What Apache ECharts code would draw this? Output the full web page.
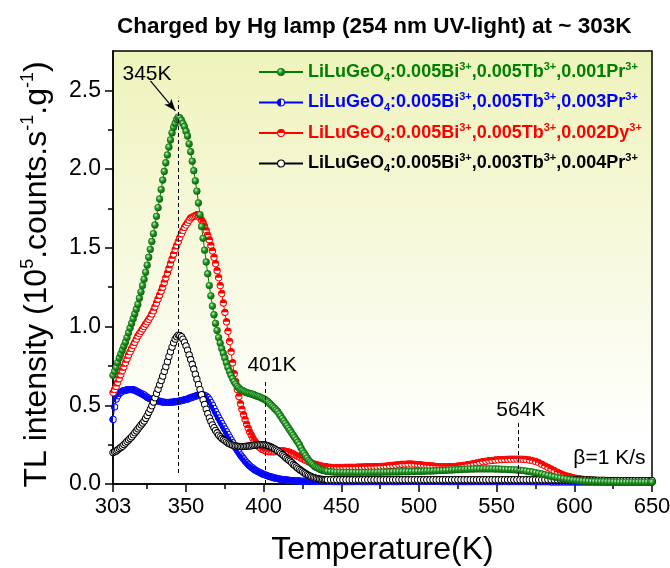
<!DOCTYPE html>
<html>
<head>
<meta charset="utf-8">
<script src="https://cdn.jsdelivr.net/npm/echarts@6/dist/echarts.min.js"></script>
<style>
  html, body { margin: 0; padding: 0; background: #fff; }
  #chart { width: 670px; height: 568px; }
</style>
</head>
<body>
<div id="chart"></div>
<script>
// Glow-curve temperatures (K): 1 K steps through the main peaks, 2 K steps in the tail
const temperature = [
  303,304,305,306,307,308,309,310,311,312,
  313,314,315,316,317,318,319,320,321,322,
  323,324,325,326,327,328,329,330,331,332,
  333,334,335,336,337,338,339,340,341,342,
  343,344,345,346,347,348,349,350,351,352,
  353,354,355,356,357,358,359,360,361,362,
  363,364,365,366,367,368,369,370,371,372,
  373,374,375,376,377,378,379,380,381,382,
  383,384,385,386,387,388,389,390,391,392,
  393,394,395,396,397,398,399,400,401,402,
  403,404,405,406,407,408,409,410,411,412,
  413,414,415,416,417,418,419,420,421,422,
  423,424,425,426,427,428,429,430,431,432,
  433,434,435,436,437,438,439,440,441,
  443,445,447,449,451,453,455,457,459,461,
  463,465,467,469,471,473,475,477,479,481,
  483,485,487,489,491,493,495,497,499,501,
  503,505,507,509,511,513,515,517,519,521,
  523,525,527,529,531,533,535,537,539,541,
  543,545,547,549,551,553,555,557,559,561,
  563,565,567,569,571,573,575,577,579,581,
  583,585,587,589,591,593,595,597,599,601,
  603,605,607,609,611,613,615,617,619,621,
  623,625,627,629,631,633,635,637,639,641,
  643,645,647,649,650
];

// TL intensity (10^5 counts/s/g) — 0.005Bi,0.005Tb,0.001Pr
const tlBiTbPr001 = [
  0.69,0.715,0.74,0.77,0.80,0.825,0.85,0.875,0.90,0.93,
  0.96,0.99,1.02,1.05,1.08,1.11,1.14,1.18,1.22,1.26,
  1.30,1.345,1.39,1.44,1.49,1.54,1.59,1.645,1.70,1.755,
  1.81,1.87,1.93,1.985,2.04,2.09,2.14,2.185,2.23,2.265,
  2.29,2.315,2.33,2.325,2.31,2.29,2.27,2.24,2.21,2.16,
  2.11,2.05,1.99,1.925,1.86,1.785,1.71,1.635,1.56,1.485,
  1.41,1.335,1.26,1.195,1.13,1.075,1.02,0.975,0.93,0.895,
  0.86,0.83,0.80,0.77,0.74,0.715,0.69,0.67,0.65,0.635,
  0.62,0.61,0.60,0.595,0.59,0.585,0.58,0.578,0.575,0.572,
  0.57,0.565,0.56,0.558,0.555,0.55,0.545,0.54,0.535,0.528,
  0.52,0.51,0.50,0.49,0.48,0.47,0.46,0.445,0.43,0.415,
  0.40,0.385,0.37,0.355,0.34,0.325,0.31,0.295,0.28,0.265,
  0.25,0.23,0.21,0.195,0.18,0.165,0.15,0.14,0.13,0.12,
  0.11,0.105,0.10,0.095,0.09,0.087,0.085,0.082,0.08,
  0.078,0.076,0.075,0.075,0.074,0.074,0.074,0.074,0.074,0.074,
  0.074,0.074,0.074,0.075,0.075,0.075,0.075,0.076,0.076,0.076,
  0.077,0.077,0.077,0.078,0.078,0.078,0.079,0.079,0.08,0.08,
  0.081,0.082,0.082,0.083,0.084,0.085,0.086,0.087,0.088,0.089,
  0.09,0.091,0.092,0.093,0.094,0.095,0.095,0.096,0.096,0.096,
  0.096,0.096,0.096,0.095,0.095,0.094,0.093,0.092,0.091,0.09,
  0.089,0.087,0.085,0.082,0.079,0.076,0.072,0.068,0.064,0.059,
  0.054,0.049,0.045,0.041,0.037,0.034,0.031,0.028,0.025,0.023,
  0.021,0.019,0.018,0.017,0.016,0.015,0.015,0.014,0.014,0.013,
  0.013,0.013,0.012,0.012,0.012,0.012,0.012,0.012,0.012,0.012,
  0.012,0.012,0.012,0.012,0.012
];

// 0.005Bi,0.005Tb,0.003Pr
const tlBiTbPr003 = [
  0.41,0.49,0.54,0.56,0.575,0.583,0.59,0.593,0.595,0.598,
  0.60,0.60,0.60,0.598,0.595,0.59,0.585,0.58,0.575,0.57,
  0.565,0.558,0.55,0.545,0.54,0.537,0.535,0.532,0.53,0.527,
  0.525,0.522,0.52,0.519,0.518,0.518,0.518,0.519,0.52,0.521,
  0.522,0.523,0.525,0.527,0.53,0.532,0.535,0.537,0.54,0.544,
  0.548,0.551,0.555,0.558,0.562,0.564,0.566,0.567,0.566,0.563,
  0.558,0.548,0.535,0.518,0.50,0.48,0.46,0.44,0.42,0.402,
  0.385,0.367,0.35,0.332,0.315,0.297,0.28,0.262,0.245,0.23,
  0.215,0.20,0.185,0.172,0.16,0.147,0.135,0.125,0.115,0.107,
  0.10,0.092,0.085,0.08,0.075,0.07,0.065,0.061,0.058,0.054,
  0.05,0.047,0.044,0.041,0.038,0.036,0.034,0.032,0.03,0.028,
  0.027,0.026,0.025,0.024,0.023,0.022,0.021,0.02,0.02,0.019,
  0.019,0.018,0.018,0.018,0.018,0.017,0.017,0.017,0.017,0.017,
  0.017,0.016,0.016,0.016,0.016,0.016,0.016,0.016,0.016,
  0.016,0.015,0.015,0.015,0.015,0.015,0.015,0.015,0.015,0.015,
  0.015,0.015,0.015,0.015,0.015,0.015,0.015,0.015,0.015,0.015,
  0.015,0.015,0.015,0.016,0.016,0.016,0.016,0.016,0.016,0.016,
  0.016,0.016,0.016,0.016,0.016,0.016,0.015,0.015,0.015,0.015,
  0.015,0.015,0.015,0.015,0.015,0.015,0.015,0.015,0.015,0.015,
  0.015,0.015,0.015,0.015,0.015,0.015,0.015,0.015,0.015,0.015,
  0.015,0.015,0.015,0.015,0.015,0.014,0.014,0.014,0.014,0.014,
  0.014,0.013,0.013,0.013,0.013,0.013,0.013,0.013,0.013,0.013,
  0.012,0.012,0.012,0.012,0.012,0.012,0.012,0.012,0.012,0.012,
  0.012,0.012,0.012,0.012,0.012,0.012,0.012,0.012,0.012,0.012,
  0.012,0.012,0.012,0.012,0.012
];

// 0.005Bi,0.005Tb,0.002Dy
const tlBiTbDy002 = [
  0.58,0.60,0.62,0.645,0.67,0.695,0.72,0.745,0.77,0.795,
  0.82,0.84,0.86,0.88,0.90,0.92,0.94,0.955,0.97,0.985,
  1.00,1.015,1.03,1.045,1.06,1.08,1.10,1.125,1.15,1.175,
  1.20,1.225,1.25,1.28,1.31,1.34,1.37,1.40,1.43,1.46,
  1.49,1.515,1.54,1.565,1.59,1.61,1.63,1.645,1.66,1.675,
  1.69,1.695,1.70,1.705,1.71,1.70,1.69,1.675,1.66,1.635,
  1.61,1.58,1.55,1.515,1.48,1.44,1.40,1.355,1.31,1.26,
  1.21,1.15,1.09,1.03,0.97,0.905,0.84,0.77,0.70,0.65,
  0.60,0.555,0.51,0.475,0.44,0.41,0.38,0.355,0.33,0.31,
  0.29,0.275,0.26,0.247,0.235,0.227,0.22,0.215,0.21,0.207,
  0.205,0.205,0.205,0.205,0.205,0.207,0.21,0.21,0.21,0.21,
  0.21,0.208,0.205,0.203,0.20,0.195,0.19,0.185,0.18,0.175,
  0.17,0.165,0.16,0.155,0.15,0.145,0.14,0.135,0.13,0.127,
  0.125,0.122,0.12,0.117,0.115,0.112,0.11,0.109,0.108,
  0.106,0.105,0.105,0.105,0.105,0.106,0.106,0.107,0.107,0.108,
  0.108,0.109,0.109,0.11,0.11,0.111,0.112,0.113,0.115,0.117,
  0.119,0.121,0.123,0.125,0.126,0.127,0.127,0.126,0.124,0.122,
  0.12,0.118,0.116,0.114,0.112,0.111,0.11,0.11,0.11,0.111,
  0.112,0.114,0.116,0.119,0.122,0.126,0.13,0.134,0.138,0.142,
  0.145,0.148,0.15,0.152,0.154,0.155,0.156,0.157,0.158,0.158,
  0.158,0.158,0.157,0.155,0.152,0.148,0.143,0.135,0.125,0.115,
  0.105,0.095,0.085,0.075,0.066,0.058,0.051,0.046,0.041,0.037,
  0.034,0.031,0.028,0.026,0.024,0.022,0.021,0.02,0.019,0.018,
  0.017,0.017,0.016,0.016,0.016,0.015,0.015,0.015,0.015,0.015,
  0.015,0.015,0.015,0.015,0.015
];

// 0.005Bi,0.003Tb,0.004Pr
const tlBiTbPr004 = [
  0.20,0.205,0.21,0.217,0.225,0.232,0.24,0.25,0.26,0.27,
  0.28,0.29,0.30,0.312,0.325,0.337,0.35,0.362,0.375,0.387,
  0.40,0.417,0.435,0.455,0.475,0.497,0.52,0.547,0.575,0.602,
  0.63,0.657,0.685,0.715,0.745,0.777,0.81,0.84,0.87,0.897,
  0.92,0.935,0.945,0.943,0.935,0.92,0.90,0.877,0.85,0.82,
  0.79,0.76,0.73,0.697,0.665,0.632,0.60,0.567,0.535,0.505,
  0.475,0.447,0.42,0.397,0.375,0.357,0.34,0.325,0.31,0.30,
  0.29,0.282,0.275,0.267,0.26,0.255,0.25,0.246,0.243,0.241,
  0.24,0.239,0.238,0.238,0.238,0.239,0.24,0.241,0.242,0.243,
  0.245,0.246,0.248,0.249,0.25,0.25,0.25,0.249,0.248,0.245,
  0.242,0.238,0.233,0.228,0.222,0.216,0.21,0.203,0.195,0.187,
  0.178,0.169,0.16,0.152,0.145,0.135,0.125,0.117,0.108,0.10,
  0.092,0.085,0.078,0.071,0.065,0.059,0.054,0.049,0.045,0.041,
  0.038,0.035,0.033,0.031,0.03,0.029,0.028,0.027,0.027,
  0.027,0.027,0.027,0.027,0.027,0.027,0.027,0.027,0.027,0.027,
  0.027,0.027,0.027,0.027,0.027,0.027,0.027,0.027,0.027,0.027,
  0.027,0.027,0.027,0.027,0.027,0.027,0.027,0.027,0.027,0.027,
  0.027,0.027,0.027,0.027,0.027,0.027,0.027,0.027,0.027,0.027,
  0.027,0.027,0.027,0.027,0.027,0.027,0.027,0.027,0.027,0.027,
  0.027,0.027,0.027,0.027,0.027,0.027,0.027,0.027,0.027,0.027,
  0.027,0.027,0.027,0.027,0.027,0.027,0.027,0.027,0.027,0.027,
  0.027,0.027,0.027,0.027,0.027,0.027,0.027,0.027,0.027,0.027,
  0.026,0.026,0.026,0.025,0.025,0.025,0.024,0.024,0.024,0.023,
  0.023,0.023,0.023,0.022,0.022,0.022,0.022,0.022,0.022,0.022,
  0.022,0.022,0.022,0.022,0.022
];

// Sample labels: host, then the three dopants with concentrations
const sampleDopants = [
  ['0.005Bi', '0.005Tb', '0.001Pr'],
  ['0.005Bi', '0.005Tb', '0.003Pr'],
  ['0.005Bi', '0.005Tb', '0.002Dy'],
  ['0.005Bi', '0.003Tb', '0.004Pr']
];
const sampleNames = sampleDopants.map(d => 'LiLuGeO₄:' + d.map(x => x + '³⁺').join(','));

// Tick labels and annotated peak temperatures
const xMajorTicks = [303, 350, 400, 450, 500, 550, 600, 650];
const xMinorTicks = [325, 375, 425, 475, 525, 575, 625];
const yMajorTicks = [0, 0.5, 1.0, 1.5, 2.0, 2.5];
const yMinorTicks = [0.25, 0.75, 1.25, 1.75, 2.25];
const peakTemps = [345, 401, 564];
const heatingRateText = 'β=1 K/s';
const titleText = 'Charged by Hg lamp (254 nm UV-light) at ~ 303K';

const FONT = '"Liberation Sans", Arial, Helvetica, sans-serif';
const colors = ['#008000', '#0000ff', '#ff0000', '#000000'];
const keys = ['g', 'b', 'r', 'k'];

function svgSymbol(body) {
  const svg = "<svg xmlns='http://www.w3.org/2000/svg' width='20' height='20' viewBox='0 0 20 20'>" + body + "</svg>";
  return 'image://data:image/svg+xml;charset=utf-8,' + encodeURIComponent(svg);
}
// shaded ball, left-half, top-half, and open circle markers
const symbols = [
  svgSymbol("<defs><radialGradient id='s' cx='0.38' cy='0.34' r='0.72'><stop offset='0' stop-color='#c6f2c6'/><stop offset='0.42' stop-color='#259a25'/><stop offset='1' stop-color='#0a560a'/></radialGradient></defs><circle cx='10' cy='10' r='8.6' fill='url(#s)' stroke='#0c6a0c' stroke-width='1.4'/>"),
  svgSymbol("<circle cx='10' cy='10' r='8' fill='#ffffff' stroke='#0000ff' stroke-width='2.6'/><path d='M10,2 A8,8 0 0 0 10,18 Z' fill='#0000ff'/>"),
  svgSymbol("<circle cx='10' cy='10' r='8' fill='#ffffff' stroke='#ff0000' stroke-width='2.6'/><path d='M2,10 A8,8 0 0 1 18,10 Z' fill='#ff0000'/>"),
  svgSymbol("<circle cx='10' cy='10' r='8' fill='#ffffff' stroke='#000000' stroke-width='2.6'/>")
];

const values = [tlBiTbPr001, tlBiTbPr003, tlBiTbDy002, tlBiTbPr004];

// rich styles for the coloured legend labels (main / subscript / superscript)
const legendRich = {};
keys.forEach((k, i) => {
  legendRich[k + 'm'] = { fontSize: 18, fontWeight: 'bold', color: colors[i], lineHeight: 22, fontFamily: FONT };
  legendRich[k + 's'] = { fontSize: 11, fontWeight: 'bold', color: colors[i], lineHeight: 10, verticalAlign: 'bottom', fontFamily: FONT };
  legendRich[k + 'p'] = { fontSize: 11, fontWeight: 'bold', color: colors[i], lineHeight: 10, verticalAlign: 'top', fontFamily: FONT };
});

function legendLabel(name) {
  const i = sampleNames.indexOf(name);
  const k = keys[i];
  const d = sampleDopants[i];
  return `{${k}m|LiLuGeO}{${k}s|4}{${k}m|:${d[0]}}{${k}p|3+}{${k}m|,${d[1]}}{${k}p|3+}{${k}m|,${d[2]}}{${k}p|3+}`;
}

// drawing order: blue, red, black, green on top
const drawOrder = [1, 2, 3, 0];

const annotationLines = [
  [{ coord: [peakTemps[0], 0.07] }, { coord: [peakTemps[0], 2.435] }],
  [{ coord: [peakTemps[1], 0.0] }, { coord: [peakTemps[1], 0.65] }],
  [{ coord: [peakTemps[2], 0.05] }, { coord: [peakTemps[2], 0.40] }],
  [
    { coord: [327.1, 2.56], symbol: 'none', lineStyle: { type: 'solid', width: 1.2, color: '#000' } },
    { coord: [343.2, 2.37], symbol: 'arrow', symbolSize: [7, 12] }
  ]
];
const annotationTexts = [
  { name: peakTemps[0] + 'K', coord: [peakTemps[0] - 20.1, 2.605] },
  { name: peakTemps[1] + 'K', coord: [peakTemps[1] + 4.3, 0.756] },
  { name: peakTemps[2] + 'K', coord: [peakTemps[2] + 1.5, 0.471] },
  { name: heatingRateText, coord: [622.6, 0.165] }
];

const series = drawOrder.map(i => {
  const s = {
    name: sampleNames[i],
    type: 'line',
    xAxisIndex: 0,
    yAxisIndex: 0,
    data: temperature.map((t, j) => [t, values[i][j]]),
    symbol: symbols[i],
    symbolSize: 8,
    showAllSymbol: true,
    lineStyle: { color: colors[i], width: 1 },
    itemStyle: { color: colors[i] },
    emphasis: { disabled: true },
    animation: false
  };
  if (i === 0) {
    s.markLine = {
      silent: true,
      animation: false,
      symbol: ['none', 'none'],
      label: { show: false },
      lineStyle: { type: [4, 3], color: '#000', width: 1 },
      data: annotationLines
    };
    s.markPoint = {
      silent: true,
      animation: false,
      symbol: 'circle',
      symbolSize: 1,
      itemStyle: { color: 'rgba(0,0,0,0)' },
      label: { show: true, position: 'inside', formatter: '{b}', color: '#000', fontSize: 21, fontFamily: FONT },
      data: annotationTexts
    };
  }
  return s;
});

const axisLineStyle = { color: '#000', width: 1.5 };

const option = {
  animation: false,
  backgroundColor: '#ffffff',
  textStyle: { fontFamily: FONT },
  title: {
    text: titleText,
    left: 117,
    top: 15,
    padding: 0,
    textStyle: { fontSize: 22.5, fontWeight: 'bold', color: '#000', fontFamily: FONT }
  },
  grid: {
    left: 113, top: 51, width: 539, height: 433,
    containLabel: false,
    outerBoundsMode: 'none',
    show: true,
    borderColor: '#000',
    borderWidth: 1.5,
    backgroundColor: new echarts.graphic.LinearGradient(0, 0, 0, 1, [
      { offset: 0, color: '#eff3bb' },
      { offset: 0.9, color: '#ffffff' },
      { offset: 1, color: '#ffffff' }
    ])
  },
  legend: {
    orient: 'vertical',
    left: 258,
    top: 61,
    padding: 0,
    itemWidth: 44,
    itemHeight: 11,
    itemGap: 8.5,
    selectedMode: false,
    data: sampleNames,
    formatter: legendLabel,
    textStyle: { rich: legendRich }
  },
  xAxis: [
    {
      type: 'value', min: 303, max: 650, position: 'bottom',
      axisLine: { show: true, onZero: false, lineStyle: axisLineStyle },
      axisTick: { show: true, customValues: xMajorTicks, length: 8, lineStyle: axisLineStyle },
      axisLabel: { customValues: xMajorTicks, fontSize: 22, color: '#000', margin: 12, fontFamily: FONT },
      splitLine: { show: false },
      name: 'Temperature(K)',
      nameLocation: 'middle',
      nameGap: 50,
      nameMoveOverlap: false,
      nameTextStyle: { fontSize: 32, color: '#000', fontFamily: FONT }
    },
    {
      type: 'value', min: 303, max: 650, position: 'bottom',
      axisLine: { show: false, onZero: false },
      axisTick: { show: true, customValues: xMinorTicks, length: 5, lineStyle: axisLineStyle },
      axisLabel: { show: false },
      splitLine: { show: false }
    }
  ],
  yAxis: [
    {
      type: 'value', min: 0, max: 2.75, position: 'left',
      axisLine: { show: true, onZero: false, lineStyle: axisLineStyle },
      axisTick: { show: true, customValues: yMajorTicks, length: 8, lineStyle: axisLineStyle },
      axisLabel: {
        customValues: yMajorTicks, fontSize: 23, color: '#000', margin: 12, fontFamily: FONT,
        formatter: v => v.toFixed(1)
      },
      splitLine: { show: false },
      name: '{m|TL intensity (10}{p|5}{m|.counts.s}{p|-1}{m|.g}{p|-1}{m|)}',
      nameLocation: 'middle',
      nameGap: 58,
      nameMoveOverlap: false,
      nameTextStyle: {
        color: '#000',
        padding: [0, 14, 0, 0],
        rich: {
          m: { fontSize: 32, lineHeight: 36, color: '#000', fontFamily: FONT },
          p: { fontSize: 18, lineHeight: 18, color: '#000', verticalAlign: 'top', fontFamily: FONT }
        }
      }
    },
    {
      type: 'value', min: 0, max: 2.75, position: 'left',
      axisLine: { show: false, onZero: false },
      axisTick: { show: true, customValues: yMinorTicks, length: 5, lineStyle: axisLineStyle },
      axisLabel: { show: false },
      splitLine: { show: false }
    }
  ],
  series: series
};

const chart = echarts.init(document.getElementById('chart'), null, { renderer: 'canvas' });
chart.setOption(option);
</script>
</body>
</html>
